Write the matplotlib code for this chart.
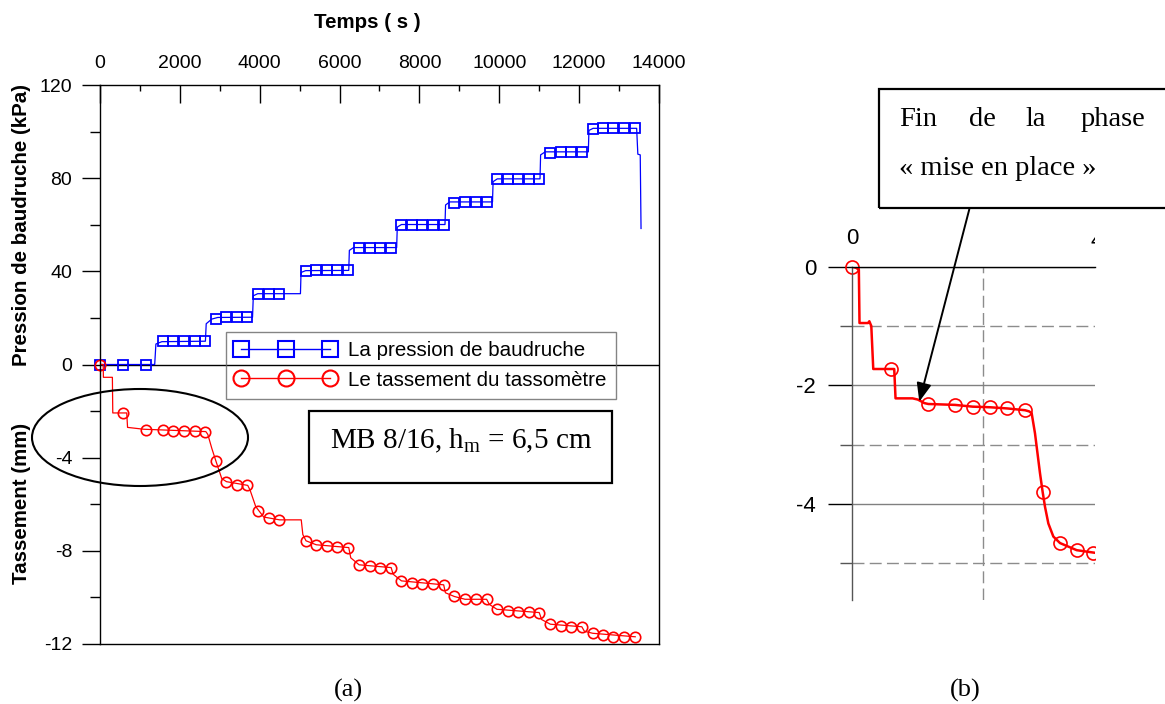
import matplotlib
matplotlib.use("Agg")
import matplotlib.pyplot as plt
from matplotlib.patches import Ellipse, Rectangle, FancyArrowPatch
from matplotlib.lines import Line2D

plt.rcParams['font.family'] = 'Liberation Sans'
plt.rcParams['mathtext.fontset'] = 'custom'
plt.rcParams['mathtext.rm'] = 'Liberation Serif'

W, H = 1165, 704

# ---- data (a) : time (s), pressure (kPa), settlement (mm)
t_mark = [0, 575, 1150, 1567, 1833, 2100, 2370, 2640, 2900, 3167, 3430, 3690,
          3958, 4225, 4490, 5160, 5417, 5690, 5945, 6210, 6490, 6750, 7025, 7292,
          7550, 7812, 8075, 8340, 8608, 8875, 9142, 9417, 9683, 9942, 10208, 10480,
          10742, 11000, 11280, 11542, 11808, 12067, 12340, 12590, 12860, 13133, 13405]
p_mark = [0, 0, 0, 10, 10, 10, 10, 10, 19.4, 20.2, 20.3, 20.3,
          30.2, 30.4, 30.4, 40.2, 40.4, 40.4, 40.4, 40.4, 50, 50.2, 50.2, 50.2,
          59.8, 60.1, 60.1, 60.1, 60.1, 69.5, 69.8, 69.8, 69.8, 79.5, 79.7, 79.7,
          79.7, 79.7, 91, 91.3, 91.3, 91.3, 101.2, 101.4, 101.4, 101.4, 101.4]
s_mark = [0, -2.08, -2.81, -2.81, -2.84, -2.85, -2.87, -2.88, -4.13, -5.03, -5.16, -5.19,
          -6.28, -6.61, -6.67, -7.57, -7.74, -7.80, -7.83, -7.86, -8.60, -8.67, -8.72, -8.72,
          -9.29, -9.39, -9.43, -9.43, -9.46, -9.96, -10.08, -10.08, -10.08, -10.51, -10.58, -10.62,
          -10.62, -10.65, -11.15, -11.23, -11.26, -11.26, -11.54, -11.63, -11.69, -11.69, -11.69]

t_p = [0, 1370, 1400, 1550, 2640, 2660, 2800, 2950, 3820, 3840, 3950, 5020, 5035, 5150,
       6230, 6245, 6350, 7430, 7445, 7550, 8640, 8655, 8760, 9830, 9845, 9950, 11020,
       11035, 11150, 12230, 12245, 12350, 13440, 13470, 13530, 13550]
p_line = [0, 0, 8.8, 9.8, 10, 17.5, 19.5, 20.2, 20.3, 29.5, 30.4, 30.4, 39.5, 40.3,
          40.4, 49, 50.2, 50.2, 59, 60.1, 60.1, 68.5, 69.8, 69.8, 78.5, 79.7, 79.7,
          90, 91.3, 91.3, 100.5, 101.4, 101.4, 90.3, 90, 58.4]

t_s = [0, 80, 85, 310, 320, 670, 690, 1100, 2650, 2700, 2800, 2900, 3050, 3167, 3700,
       3760, 3900, 4100, 4500, 5040, 5080, 5160, 5417, 6230, 6280, 6490, 7292, 7340, 7550,
       8608, 8650, 8875, 9142, 9683, 9750, 9942, 11000, 11060, 11280, 12067, 12130, 12340, 13405]
s_line = [0, 0, -0.55, -0.55, -2.08, -2.08, -2.70, -2.78, -2.88, -3.0, -3.6, -4.13, -4.9,
          -5.03, -5.19, -5.4, -6.1, -6.55, -6.67, -6.67, -7.3, -7.57, -7.74, -7.86, -8.3,
          -8.6, -8.72, -9.0, -9.29, -9.46, -9.8, -9.96, -10.08, -10.08, -10.3, -10.51, -10.65,
          -10.95, -11.15, -11.26, -11.45, -11.54, -11.69]

# ---- data (b) : zoom on the start of the settlement curve
tb_mark = [0, 591, 1160, 1567, 1838, 2102, 2367, 2637, 2906, 3171, 3426, 3679]
sb_mark = [0, -1.725, -2.315, -2.33, -2.36, -2.37, -2.39, -2.42, -3.80, -4.66, -4.78, -4.82]
tb_line = [0, 60, 100, 110, 240, 260, 290, 320, 640, 660, 920, 1000, 1100, 1160, 1567,
           1838, 2102, 2367, 2637, 2700, 2738, 2789, 2865, 2906, 2942, 2993, 3069, 3171,
           3426, 3679, 3800]
sb_line = [0, -0.02, -0.05, -0.95, -0.95, -0.92, -1.0, -1.725, -1.725, -2.22, -2.22, -2.24,
           -2.3, -2.315, -2.33, -2.36, -2.37, -2.39, -2.42, -2.44, -2.47, -2.81, -3.48, -3.8,
           -4.05, -4.33, -4.55, -4.66, -4.78, -4.82, -4.84]

def fx(px):
    return px / W

def fy(py):
    return 1 - py / H

fig = plt.figure(figsize=(W / 100, H / 100), dpi=100)

# ================= (a)
ax = fig.add_axes([fx(100), fy(644), 559 / W, 559 / H])
ax.set_xlim(0, 14000)
ax.set_ylim(-120, 120)
ax.axhline(0, color='black', lw=1.0, zorder=1)
ax.plot(t_p, p_line, color='blue', lw=0.9)
ax.plot(t_mark, p_mark, ls='none', marker='s', ms=7.2, mfc='none', mec='blue', mew=1.3, clip_on=False)
ax.plot(t_s, [10 * v for v in s_line], color='red', lw=0.9)
ax.plot(t_mark, [10 * v for v in s_mark], ls='none', marker='o', ms=7.5, mfc='none', mec='red',
        mew=1.2, clip_on=False)

ax.xaxis.tick_top()
ax.set_xticks(range(0, 14001, 2000))
ax.set_xticks(range(1000, 14000, 2000), minor=True)
ax.tick_params(axis='x', which='major', direction='in', length=13, width=1, pad=9, labelsize=14)
ax.tick_params(axis='x', which='minor', direction='in', length=4, width=1)
ax.set_yticks([-120, -80, -40, 0, 40, 80, 120])
ax.set_yticklabels(['-12', '-8', '-4', '0', '40', '80', '120'])
ax.set_yticks([-100, -60, -20, 20, 60, 100], minor=True)
ax.tick_params(axis='y', which='major', direction='out', length=13, width=1, pad=7, labelsize=14)
ax.tick_params(axis='y', which='minor', direction='out', length=7, width=1)
for sp in ax.spines.values():
    sp.set_linewidth(1.0)

handles = [Line2D([], [], color='blue', lw=1, marker='s', ms=11.5, mfc='none', mec='blue', mew=1.5),
           Line2D([], [], color='red', lw=1, marker='o', ms=11.5, mfc='none', mec='red', mew=1.5)]
leg = ax.legend(handles, ['La pression de baudruche', 'Le tassement du tassomètre'],
                loc='upper left', bbox_to_anchor=(fx(226), fy(332)), bbox_transform=fig.transFigure,
                borderaxespad=0, numpoints=3, handlelength=4.9, handletextpad=0.6,
                labelspacing=0.5, borderpad=0.45, fontsize=14.8, fancybox=False,
                facecolor='none', edgecolor='#666666')
leg.get_frame().set_linewidth(1.0)

fig.text(fx(367), fy(22), 'Temps ( s )', ha='center', va='center', fontsize=14.8, fontweight='bold')
fig.text(fx(22), fy(225), 'Pression de baudruche (kPa)', ha='center', va='center', rotation=90,
         fontsize=14.8, fontweight='bold')
fig.text(fx(22), fy(503), 'Tassement (mm)', ha='center', va='center', rotation=90,
         fontsize=14.8, fontweight='bold')

fig.add_artist(Ellipse((fx(140), fy(437.5)), 216 / W, 97 / H, transform=fig.transFigure,
                       fill=False, ec='black', lw=1.5))
fig.add_artist(Rectangle((fx(309), fy(483)), 303 / W, 72 / H, transform=fig.transFigure,
                         fill=False, ec='black', lw=1.6))
fig.text(fx(330), fy(448), 'MB 8/16, h$_{\\mathrm{m}}$ = 6,5 cm', ha='left', va='baseline',
         fontsize=21, family='Liberation Serif')

fig.text(fx(348), fy(690), '(a)', ha='center', va='center', fontsize=19, family='Liberation Serif')
fig.text(fx(965), fy(690), '(b)', ha='center', va='center', fontsize=19, family='Liberation Serif')

# ================= (b)
axb = fig.add_axes([fx(852.3), fy(600), (1095 - 852.3) / W, (600 - 266.7) / H])
axb.set_xlim(0, 3705)
axb.set_ylim(-5.62, 0)
axb.spines['right'].set_visible(False)
axb.spines['bottom'].set_visible(False)
axb.spines['top'].set_color('black')
axb.spines['top'].set_linewidth(1.0)
axb.spines['left'].set_color('#555555')
axb.spines['left'].set_linewidth(1.0)
axb.xaxis.tick_top()
axb.set_xticks([0])
axb.set_xticks([2000], minor=True)
axb.tick_params(axis='x', which='both', length=0, pad=13, labelsize=16)
axb.set_yticks([0, -2, -4])
axb.set_yticklabels(['0', '-2', '-4'])
axb.set_yticks([-1, -3, -5], minor=True)
axb.tick_params(axis='y', which='major', direction='out', length=17, width=1, pad=9, labelsize=16)
axb.tick_params(axis='y', which='minor', direction='out', length=8.6, width=1, color='#555555')
axb.grid(axis='y', which='major', color='#808080', lw=1.0, ls='-')
axb.grid(axis='y', which='minor', color='#8c8c8c', lw=1.0, ls=(0, (8.6, 3.8)))
axb.grid(axis='x', which='minor', color='#8c8c8c', lw=1.0, ls=(0, (8.6, 3.8)))
axb.set_axisbelow(True)
axb.plot(tb_line, sb_line, color='red', lw=1.8)
axb.plot(tb_mark[:1], sb_mark[:1], ls='none', marker='o', ms=9.4, mfc='none', mec='red', mew=1.2,
         clip_on=False)
axb.plot(tb_mark[1:], sb_mark[1:], ls='none', marker='o', ms=9.4, mfc='none', mec='red', mew=1.2)

t4 = fig.text(fx(1115), fy(241.7), '4000', ha='center', va='center', fontsize=16)
clip = Rectangle((0, 0), fx(1095), 1, transform=fig.transFigure)
t4.set_clip_path(clip)

# callout
fig.add_artist(Rectangle((fx(879), fy(208.3)), 400 / W, (208.3 - 89) / H, transform=fig.transFigure,
                         fill=False, ec='black', lw=1.6))
for word, x in [('Fin', 899.3), ('de', 969), ('la', 1025.7), ('phase', 1081)]:
    fig.text(fx(x), fy(125.7), word, ha='left', va='baseline', fontsize=20.5, family='Liberation Serif')
fig.text(fx(899.3), fy(175), '« mise en place »', ha='left', va='baseline', fontsize=20.5,
         family='Liberation Serif')
fig.add_artist(FancyArrowPatch((fx(969.3), fy(209.3)), (fx(919.3), fy(401.7)),
                               transform=fig.transFigure, arrowstyle='-|>,head_length=0.75,head_width=0.3',
                               mutation_scale=15, color='black', lw=1.4, shrinkA=0, shrinkB=0))

fig.savefig('out.png', dpi=100)
